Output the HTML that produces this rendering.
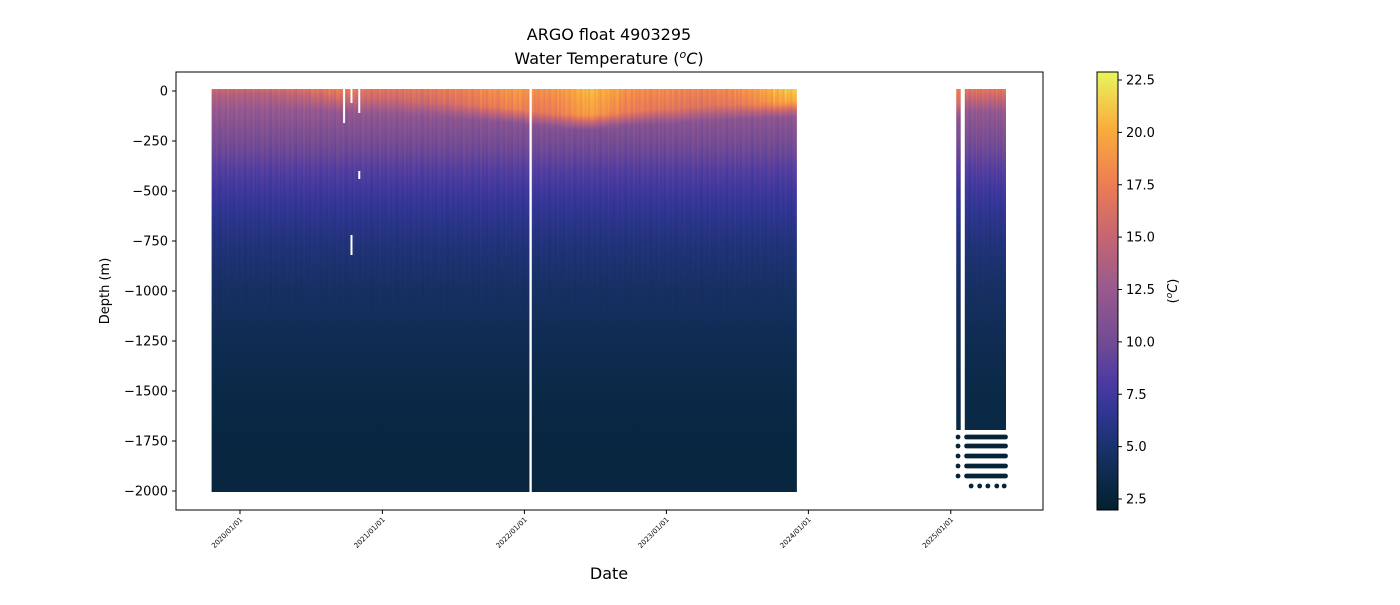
<!DOCTYPE html>
<html><head><meta charset="utf-8">
<style>
html,body{margin:0;padding:0;background:#fff;}
svg text{font-family:"DejaVu Sans","Liberation Sans",sans-serif;fill:#000;}
</style></head>
<body>
<svg id="chart" width="1400" height="600" viewBox="0 0 1400 600">
  <defs id="defs">
    <linearGradient id="cbar" x1="0" y1="1" x2="0" y2="0">
      <stop offset="0" stop-color="#04202f"/>
      <stop offset="0.07" stop-color="#0b2a4a"/>
      <stop offset="0.15" stop-color="#1c3270"/>
      <stop offset="0.22" stop-color="#2f3592"/>
      <stop offset="0.29" stop-color="#4b3aa2"/>
      <stop offset="0.39" stop-color="#744c93"/>
      <stop offset="0.51" stop-color="#9a5a8e"/>
      <stop offset="0.63" stop-color="#c86670"/>
      <stop offset="0.75" stop-color="#ee7f52"/>
      <stop offset="0.87" stop-color="#f9ac3c"/>
      <stop offset="1" stop-color="#e9f55c"/>
    </linearGradient>
  </defs>
  <text x="609" y="40" text-anchor="middle" font-size="16">ARGO float 4903295</text>
  <text x="609" y="64" text-anchor="middle" font-size="16">Water Temperature (<tspan font-style="italic" font-size="11" dy="-6">o</tspan><tspan font-style="italic" dy="6">C</tspan>)</text>
  <g id="plot"></g>
  <rect x="176" y="72" width="867" height="438" fill="none" stroke="#000" stroke-width="1"/>
  <g id="yaxis"></g>
  <g id="xaxis"></g>
  <text transform="translate(109,291) rotate(-90)" text-anchor="middle" font-size="13">Depth (m)</text>
  <text x="609" y="579" text-anchor="middle" font-size="16">Date</text>
  <rect x="1097" y="72" width="21" height="438" fill="url(#cbar)" stroke="#000" stroke-width="1"/>
  <g id="cbaxis"></g>
  <text transform="translate(1177,291) rotate(-90)" text-anchor="middle" font-size="13">(<tspan font-style="italic" font-size="9" dy="-5">o</tspan><tspan font-style="italic" dy="5">C</tspan>)</text>
</svg>
<script>
// ---- data ----
const deepDepths = [0,100,200,300,400,500,600,750,900,1000,1250,1500,1750,2000];
const deepTemps  = [13,12.4,11,9.8,8.5,7.4,6.6,5.6,4.9,4.5,3.8,3.3,2.9,2.5];
// monthly, Oct 2019 .. Nov 2023
const surfaceTemps = [15.6,15.6,15.5,15.5,15.6,15.8,16.0,16.2,16.4,16.8,17.2,17.4,17.0,16.8,16.8,
  16.8,16.8,17.0,17.0,17.2,17.4,17.6,18.0,18.4,18.6,19.0,19.2,
  18.6,18.6,18.9,19.4,20.2,20.6,20.2,19.6,19.0,18.6,18.4,18.4,
  18.2,18.0,17.9,18.0,18.2,18.4,18.8,19.4,20.0,20.8,21.2];
const mixedLayer = [25,25,25,25,25,25,25,30,30,35,40,45,45,50,50,
  50,55,60,60,65,70,75,80,85,90,95,100,
  110,115,120,125,130,130,125,120,115,110,105,100,
  100,95,90,85,80,80,75,75,70,70,65];
const columnAnomaly = [0.3,-0.4,0.6,-0.2,-0.7,0.4,0.1,-0.5,0.8,-0.3,0.2,-0.6,0.5];
const segments = [
  {start:"2019-10-20", end:"2022-01-12", step:5},
  {start:"2022-01-20", end:"2023-11-26", step:5}
];
const seg2First = "2025-01-15";
const seg2 = {start:"2025-02-06", end:"2025-05-17", step:4, surface:16.8, mld:40, solidTo:1690};
const dotDepths = [1730,1775,1825,1875,1925];
const lastRowDates = ["2025-02-21","2025-03-15","2025-04-05","2025-04-28","2025-05-17"];
const gaps = [{date:"2020-09-22",d0:0,d1:150},{date:"2020-10-11",d0:0,d1:50},{date:"2020-10-31",d0:0,d1:100},{date:"2020-10-31",d0:410,d1:430},{date:"2020-10-11",d0:730,d1:810},{date:"2022-01-14",d0:0,d1:2000}];
const yTicks = [0,-250,-500,-750,-1000,-1250,-1500,-1750,-2000];
const xTickLabels = ["2020/01/01","2021/01/01","2022/01/01","2023/01/01","2024/01/01","2025/01/01"];
const cbTicks = [2.5,5.0,7.5,10.0,12.5,15.0,17.5,20.0,22.5];

// ---- scales ----
const NS="http://www.w3.org/2000/svg";
const t0 = Date.UTC(2020,0,1);
const D=86400000;
function xScale(d){return 240 + (d - t0)/D*0.38904;}
function yScale(m){return 91 - m*0.2;}
function cScale(t){return 499 - (t-2.5)*20.95;}
const stops=[[0,[4,32,47]],[0.07,[11,42,74]],[0.15,[28,50,112]],[0.22,[47,53,146]],[0.29,[75,58,162]],[0.39,[116,76,147]],[0.51,[154,90,142]],[0.63,[200,102,112]],[0.75,[238,127,82]],[0.87,[249,172,60]],[1,[233,245,92]]];
function color(t){
  let f=(t-1.98)/(22.88-1.98); f=Math.max(0,Math.min(1,f));
  for(let i=1;i<stops.length;i++){ if(f<=stops[i][0]){const a=stops[i-1],b=stops[i];const u=(f-a[0])/(b[0]-a[0]);
    return "rgb("+a[1].map((v,k)=>Math.round(v+(b[1][k]-v)*u)).join(",")+")";}}
  return "rgb(233,245,92)";
}
function mk(tag,attrs,parent){const e=document.createElementNS(NS,tag);for(const k in attrs)e.setAttribute(k,attrs[k]);parent.appendChild(e);return e;}
function deep(d){
  for(let i=1;i<deepDepths.length;i++){ if(d<=deepDepths[i]){const u=(d-deepDepths[i-1])/(deepDepths[i]-deepDepths[i-1]);
    return deepTemps[i-1]+(deepTemps[i]-deepTemps[i-1])*u;}}
  return deepTemps[deepTemps.length-1];
}
function tempAt(surf,mld,anom,d){
  let t;
  if(d<=mld) t=surf-(d/mld)*1.5;
  else if(d<mld+70){const u=(d-mld)/70; t=(surf-1.5)+(deep(mld+70)-(surf-1.5))*u;}
  else t=deep(d);
  const w=d<1200?1-d/1200:0;
  return t+anom*w;
}
function monthIdx(ms){const d=new Date(ms);return Math.max(0,Math.min(surfaceTemps.length-1,(d.getUTCFullYear()-2019)*12+d.getUTCMonth()-9));}
const plot=document.getElementById('plot');
const defs=document.getElementById('defs');
const sampleDepths=[0,10,20,30,40,50,60,75,90,100,110,125,140,150,165,180,200,220,250,300,400,500,600,750,900,1000,1250,1500,1750,2000];
let gid=0;
function drawColumn(ms,surf,mld,anom,w,maxDepth){
  const id='cg'+(gid++);
  const g=mk('linearGradient',{id:id,x1:0,y1:0,x2:0,y2:1},defs);
  sampleDepths.forEach(d=>{ if(d>maxDepth)return;
    mk('stop',{offset:(d/maxDepth).toFixed(4),'stop-color':color(tempAt(surf,mld,anom,d))},g);});
  const x=xScale(ms), y0=yScale(0)-2, y1=yScale(-maxDepth)+(maxDepth>=1990?2:1);
  const r=mk('rect',{x:x.toFixed(2),y:y0,width:w,height:(y1-y0).toFixed(2),fill:'url(#'+id+')'},plot);
  
  
}
let ci=0;
segments.forEach(s=>{
  const a=Date.parse(s.start),b=Date.parse(s.end);
  for(let t=a;t<=b;t+=s.step*D){ const m=monthIdx(t);
    drawColumn(t,surfaceTemps[m],mixedLayer[m],columnAnomaly[ci++%columnAnomaly.length],2.5,1995); }
});
// second deployment period
drawColumn(Date.parse(seg2First),17.5,70,0,4.5,seg2.solidTo);
{
  const a=Date.parse(seg2.start),b=Date.parse(seg2.end);
  for(let t=a;t<=b;t+=seg2.step*D){
    drawColumn(t,seg2.surface,seg2.mld,columnAnomaly[ci++%columnAnomaly.length],2.3,seg2.solidTo);
  }
  const xs=[Date.parse(seg2First)];
  for(let t=a;t<=b;t+=seg2.step*D) xs.push(t);
  dotDepths.forEach(dd=>{
    xs.forEach(t=>{
      const c=mk('circle',{cx:(xScale(t)+1.8).toFixed(2),cy:yScale(-dd).toFixed(2),r:2.4,fill:color(2.4)},plot);
      
      
    });
  });
  lastRowDates.forEach(s=>{
    const c=mk('circle',{cx:(xScale(Date.parse(s))+0.5).toFixed(2),cy:yScale(-1975).toFixed(2),r:2.4,fill:color(2.4)},plot);
    
    
  });
}
gaps.forEach(gp=>{
  const x=xScale(Date.parse(gp.date));
  const r=mk('rect',{x:x.toFixed(2),y:yScale(-gp.d0)-2,width:2,height:(gp.d1-gp.d0)*0.2+4,fill:'#fff'},plot);
  
  
});
// y axis
const ya=document.getElementById('yaxis');
yTicks.forEach(v=>{const y=yScale(v);
  const l=mk('line',{x1:172,x2:176,y1:y,y2:y,stroke:'#000'},ya);
  
  const t=mk('text',{x:168,y:y+4.5,'text-anchor':'end','font-size':13},ya);t.textContent=(v<0?'\u2212'+(-v):v);
  
});
// x axis
const xa=document.getElementById('xaxis');
xTickLabels.forEach(s=>{const x=xScale(Date.UTC(+s.slice(0,4),0,1));
  const l=mk('line',{x1:x,x2:x,y1:510,y2:514,stroke:'#000'},xa);
  
  const t=mk('text',{x:x+3,y:520,'text-anchor':'end','font-size':7,transform:'rotate(-45 '+(x+3)+' 520)'},xa);t.textContent=s;
  
});
// colorbar axis
const ca=document.getElementById('cbaxis');
cbTicks.forEach(v=>{const y=cScale(v);
  const l=mk('line',{x1:1118,x2:1122,y1:y,y2:y,stroke:'#000'},ca);
  
  const t=mk('text',{x:1126,y:y+4.5,'font-size':13},ca);t.textContent=v.toFixed(1);
  
});
</script>
</body></html>
